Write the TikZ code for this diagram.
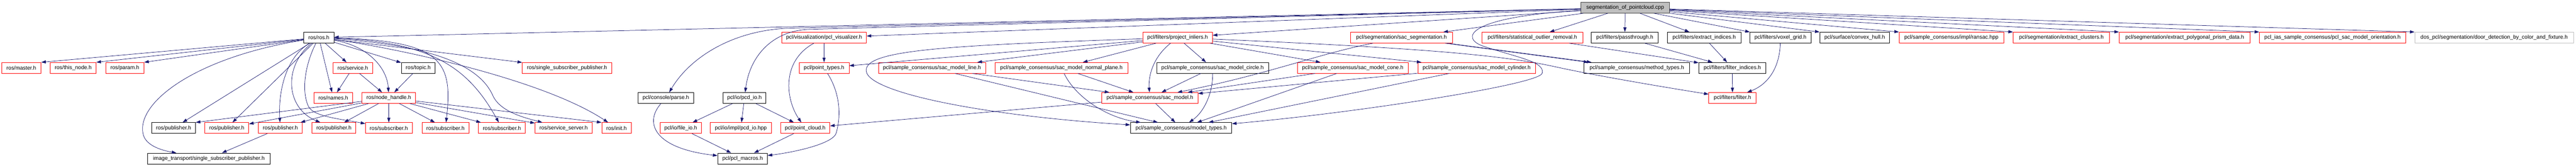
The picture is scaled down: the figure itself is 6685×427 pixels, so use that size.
\documentclass[tikz,border=0pt]{standalone}
\usepackage{fontspec}
\newfontfamily\dfont{Liberation Sans}
\usetikzlibrary{arrows.meta}
\definecolor{edgec}{HTML}{191970}
\definecolor{redc}{HTML}{FF0000}
\definecolor{rootfill}{HTML}{BFBFBF}
\definecolor{rootdraw}{HTML}{404040}
\definecolor{greyc}{HTML}{BFBFBF}
\tikzset{
 box/.style={draw, rectangle, line width=1pt, minimum height=28pt, inner xsep=1pt, inner ysep=0pt, font=\dfont\fontsize{14}{16}\selectfont, text=black, fill=white},
 redbox/.style={box, draw=redc},
 blkbox/.style={box, draw=black},
 rootbox/.style={box, draw=rootdraw, fill=rootfill},
 greybox/.style={box, draw=greyc},
 conn/.style={draw=edgec, line width=1pt, -{Triangle[length=12pt,width=8pt]}},
}
\begin{document}
\begin{tikzpicture}[x=1pt,y=-1pt]
\useasboundingbox (0,0) rectangle (6685,427);
% row 0
\node[rootbox, minimum width=230pt] (root) at (4217.5,20) {segmentation\_of\_pointcloud.cpp};
% row 1
\node[blkbox, minimum width=78pt] (ros) at (827.5,97.5) {ros/ros.h};
\node[redbox, minimum width=220pt] (vis) at (2138.5,97.5) {pcl/visualization/pcl\_visualizer.h};
\node[redbox, minimum width=181pt] (projinl) at (3056,97.5) {pcl/filters/project\_inliers.h};
\node[redbox, minimum width=265pt] (sacseg) at (3637,97.5) {pcl/segmentation/sac\_segmentation.h};
\node[redbox, minimum width=262pt] (stat) at (3976.5,97.5) {pcl/filters/statistical\_outlier\_removal.h};
\node[blkbox, minimum width=174pt] (pass) at (4216.5,97.5) {pcl/filters/passthrough.h};
\node[blkbox, minimum width=190pt] (extract) at (4422.5,97.5) {pcl/filters/extract\_indices.h};
\node[blkbox, minimum width=158pt] (voxel) at (4620.5,97.5) {pcl/filters/voxel\_grid.h};
\node[blkbox, minimum width=181pt] (hull) at (4813,97.5) {pcl/surface/convex\_hull.h};
\node[redbox, minimum width=271pt] (ransac) at (5064,97.5) {pcl/sample\_consensus/impl/ransac.hpp};
\node[redbox, minimum width=250pt] (clusters) at (5349.5,97.5) {pcl/segmentation/extract\_clusters.h};
\node[redbox, minimum width=340pt] (prism) at (5669.5,97.5) {pcl/segmentation/extract\_polygonal\_prism\_data.h};
\node[redbox, minimum width=379pt] (orient) at (6053,97.5) {pcl\_ias\_sample\_consensus/pcl\_sac\_model\_orientation.h};
\node[greybox, minimum width=412pt] (door) at (6472.5,97.5) {dos\_pcl/segmentation/door\_detection\_by\_color\_and\_fixture.h};
% row 2
\node[redbox, minimum width=102pt] (master) at (55.5,176) {ros/master.h};
\node[redbox, minimum width=119pt] (thisnode) at (190,176) {ros/this\_node.h};
\node[redbox, minimum width=99pt] (param) at (324,176) {ros/param.h};
\node[redbox, minimum width=102pt] (service) at (915.5,176) {ros/service.h};
\node[blkbox, minimum width=88pt] (topic) at (1085.5,176) {ros/topic.h};
\node[redbox, minimum width=232pt] (rosssp) at (1471.5,176) {ros/single\_subscriber\_publisher.h};
\node[redbox, minimum width=130pt] (ptypes) at (2138.5,176) {pcl/point\_types.h};
\node[redbox, minimum width=278pt] (nline) at (2418.5,176) {pcl/sample\_consensus/sac\_model\_line.h};
\node[redbox, minimum width=344pt] (nplane) at (2754.5,176) {pcl/sample\_consensus/sac\_model\_normal\_plane.h};
\node[blkbox, minimum width=290pt] (ncircle) at (3146.5,176) {pcl/sample\_consensus/sac\_model\_circle.h};
\node[redbox, minimum width=288pt] (cone) at (3510.5,176) {pcl/sample\_consensus/sac\_model\_cone.h};
\node[redbox, minimum width=305pt] (cyl) at (3832,176) {pcl/sample\_consensus/sac\_model\_cylinder.h};
\node[blkbox, minimum width=274pt] (method) at (4247.5,176) {pcl/sample\_consensus/method\_types.h};
\node[blkbox, minimum width=174pt] (findices) at (4495.5,176) {pcl/filters/filter\_indices.h};
% row 3
\node[redbox, minimum width=101pt] (names) at (865,254) {ros/names.h};
\node[redbox, minimum width=139pt] (nh) at (1009,254) {ros/node\_handle.h};
\node[blkbox, minimum width=145pt] (parse) at (1728,254) {pcl/console/parse.h};
\node[blkbox, minimum width=111pt] (pcdio) at (1932,254) {pcl/io/pcd\_io.h};
\node[redbox, minimum width=249pt] (sacmodel) at (2984,254) {pcl/sample\_consensus/sac\_model.h};
\node[redbox, minimum width=123pt] (filter) at (4496,254) {pcl/filters/filter.h};
% row 4
\node[blkbox, minimum width=114pt] (pub0) at (450.5,332) {ros/publisher.h};
\node[redbox, minimum width=114pt] (pub1) at (588.5,332) {ros/publisher.h};
\node[redbox, minimum width=114pt] (pub2) at (727.5,332) {ros/publisher.h};
\node[redbox, minimum width=114pt] (pub3) at (866.5,332) {ros/publisher.h};
\node[redbox, minimum width=121pt] (sub1) at (1009,332) {ros/subscriber.h};
\node[redbox, minimum width=121pt] (sub2) at (1156,332) {ros/subscriber.h};
\node[redbox, minimum width=122pt] (sub3) at (1302.5,332) {ros/subscriber.h};
\node[redbox, minimum width=148pt] (srvsrv) at (1462.5,332) {ros/service\_server.h};
\node[redbox, minimum width=77pt] (init) at (1600,332) {ros/init.h};
\node[redbox, minimum width=106pt] (fileio) at (1766.5,332) {pcl/io/file\_io.h};
\node[redbox, minimum width=158pt] (pcdhpp) at (1922.5,332) {pcl/io/impl/pcd\_io.hpp};
\node[redbox, minimum width=128pt] (pcloud) at (2089.5,332) {pcl/point\_cloud.h};
\node[blkbox, minimum width=263pt] (mtypes) at (3065,332) {pcl/sample\_consensus/model\_types.h};
% row 5
\node[blkbox, minimum width=317pt] (itssp) at (542,411) {image\_transport/single\_subscriber\_publisher.h};
\node[blkbox, minimum width=129pt] (macros) at (1927,411) {pcl/pcl\_macros.h};

% ---- edges from root
\draw[conn] (root) -- (ros);
\draw[conn] (root) -- (vis);
\draw[conn] (root) -- (2050,73) .. controls (1900,78) and (1790,150) .. (parse);
\draw[conn] (root) -- (2100,76) .. controls (2000,80) and (1945,150) .. (pcdio);
\draw[conn] (root) -- (projinl);
\draw[conn] (root) -- (sacseg);
\draw[conn] (root) -- (stat);
\draw[conn] (root) -- (pass);
\draw[conn] (root) -- (extract);
\draw[conn] (root) -- (voxel.north west);
\draw[conn] (root) -- (hull.north west);
\draw[conn] (root) -- (ransac.north west);
\draw[conn] (root) -- (clusters.north west);
\draw[conn] (root) -- (prism.north west);
\draw[conn] (root) -- (orient.north west);
\draw[conn] (root) -- (door.north west);
\draw[conn] (root) .. controls (3800,45) and (3790,100) .. (3850,120) .. controls (3940,150) and (4010,160) .. (4002,190) .. controls (3994,220) and (3500,295) .. (mtypes);

% ---- ros part
\draw[conn] (ros) -- (master.north east);
\draw[conn] (ros) -- (thisnode.north east);
\draw[conn] (ros) -- (param.north east);
\draw[conn] (ros) .. controls (500,150) and (350,270) .. (372,350) .. controls (380,378) and (420,390) .. (itssp);
\draw[conn] (ros) -- (pub0);
\draw[conn] (ros) -- (pub1);
\draw[conn] (ros) .. controls (740,150) and (722,240) .. (pub2);
\draw[conn] (ros) .. controls (735,170) and (740,280) .. (pub3);
\draw[conn] (ros) .. controls (795,160) and (780,230) .. (800,275) .. controls (812,302) and (880,308) .. (sub1);
\draw[conn] (ros) -- (names);
\draw[conn] (ros) -- (service);
\draw[conn] (ros) .. controls (960,120) and (1005,180) .. (nh);
\draw[conn] (ros) -- (topic);
\draw[conn] (ros) .. controls (1150,105) and (1175,160) .. (sub2);
\draw[conn] (ros) .. controls (1120,108) and (1215,175) .. (sub3);
\draw[conn] (ros) -- (rosssp);
\draw[conn] (ros) .. controls (1150,120) and (1250,180) .. (1280,250) .. controls (1300,290) and (1360,305) .. (srvsrv);
\draw[conn] (ros) .. controls (1000,120) and (1400,200) .. (init);
\draw[conn] (service) -- (names);
\draw[conn] (service) -- (nh);
\draw[conn] (topic) -- (nh);
\draw[conn] (nh) -- (pub0.north east);
\draw[conn] (nh) -- (pub1);
\draw[conn] (nh) -- (pub2);
\draw[conn] (nh) -- (pub3);
\draw[conn] (nh) -- (sub1);
\draw[conn] (nh) -- (sub2);
\draw[conn] (nh) -- (sub3);
\draw[conn] (nh) -- (srvsrv);
\draw[conn] (nh) -- (init.north west);
\draw[conn] (pub2) -- (itssp);

% ---- pcl io / visualization
\draw[conn] (vis) -- (ptypes);
\draw[conn] (vis) .. controls (2025,160) and (2040,260) .. (pcloud);
\draw[conn] (ptypes) .. controls (2185,250) and (2180,310) .. (2170,345) .. controls (2162,373) and (2060,395) .. (macros);
\draw[conn] (pcloud) -- (macros);
\draw[conn] (parse) .. controls (1670,320) and (1700,385) .. (macros);
\draw[conn] (pcdio) -- (fileio);
\draw[conn] (pcdio) -- (pcdhpp);
\draw[conn] (pcdio) -- (pcloud);
\draw[conn] (fileio) -- (macros);
\draw[conn] (sacmodel) -- (pcloud);

% ---- project inliers
\draw[conn] (projinl) -- (ptypes);
\draw[conn] (projinl) .. controls (2450,118) and (2240,130) .. (2248,185) .. controls (2256,240) and (2550,300) .. (mtypes);
\draw[conn] (projinl) -- (nline);
\draw[conn] (projinl) -- (nplane);
\draw[conn] (projinl) .. controls (2990,150) and (2980,200) .. (sacmodel);
\draw[conn] (projinl) -- (ncircle);
\draw[conn] (projinl) -- (cone);
\draw[conn] (projinl) -- (cyl);
\draw[conn] (projinl) .. controls (3700,125) and (3900,143) .. (4040,174) .. controls (4140,196) and (4330,228) .. (filter);

% ---- sample consensus models
\draw[conn] (nline) -- (sacmodel);
\draw[conn] (nline) -- (mtypes);
\draw[conn] (nplane) -- (sacmodel);
\draw[conn] (nplane) .. controls (2790,250) and (2870,305) .. (mtypes);
\draw[conn] (ncircle) -- (sacmodel);
\draw[conn] (ncircle) .. controls (3148,240) and (3125,290) .. (mtypes);
\draw[conn] (cone) -- (sacmodel);
\draw[conn] (cone) -- (mtypes);
\draw[conn] (cyl) -- (sacmodel);
\draw[conn] (cyl) -- (mtypes);
\draw[conn] (sacmodel) -- (mtypes);
\draw[conn] (sacseg) .. controls (3420,140) and (3300,190) .. (sacmodel);
\draw[conn] ([xshift=-20pt]sacseg.south east) -- ([xshift=12pt]method.north west);
\draw[conn] ([xshift=-14pt]sacseg.south east) -- ([xshift=20pt]method.north west);

% ---- filters
\draw[conn] (stat) -- (findices);
\draw[conn] (pass) -- (findices);
\draw[conn] (extract) -- (findices);
\draw[conn] (findices) -- (filter);
\draw[conn] (voxel) .. controls (4618,180) and (4585,220) .. (filter);
\end{tikzpicture}
\end{document}
